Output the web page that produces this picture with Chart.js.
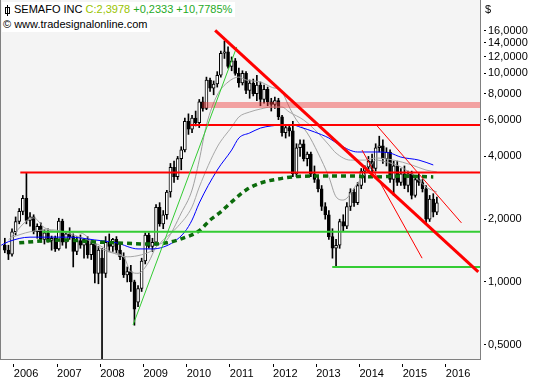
<!DOCTYPE html>
<html lang="en">
<head>
<meta charset="UTF-8">
<title>SEMAFO INC</title>
<script src="https://cdn.jsdelivr.net/npm/chart.js"></script>
<style>
    body { margin: 0; background: #fff; font-family: 'Liberation Sans', Arial, sans-serif; }
    .wrap { position: relative; width: 540px; height: 380px; overflow: hidden; }
    canvas { position: absolute; left: 0; top: 0; }
    .head { position: absolute; left: 2px; background: #fff; font-size: 11px; white-space: nowrap; color: #000; }
    #line1 { top: 2px; height: 15px; line-height: 15px; padding: 0 3px 0 2px; }
    #line2 { top: 17px; height: 15px; line-height: 15px; padding: 0 3px 0 1px; }
    .icon { display: inline-block; position: relative; width: 3px; height: 5px; border: 1px solid #000; margin: 0 4px 0 1px; vertical-align: -1px; }
    .icon:before { content: ''; position: absolute; left: 1px; top: -3px; width: 1px; height: 11px; background: #000; }
    .cl { color: #99c400; }
    .chg { color: #1faa1f; }
    #unit { position: absolute; left: 485px; top: 3px; font-size: 11px; color: #000; }
</style>
</head>
<body>
<div class="wrap">
    <canvas id="chart" width="540" height="380"></canvas>
    <div class="head" id="line1"><span class="icon"></span>SEMAFO INC <span class="cl">C:2,3978</span> <span class="chg">+0,2333 +10,7785%</span></div>
    <div class="head" id="line2">© www.tradesignalonline.com</div>
    <div id="unit">$</div>
</div>
<script>
// monthly candles
const months = [
    '2005-10','2005-11','2005-12',
    '2006-01','2006-02','2006-03','2006-04','2006-05','2006-06','2006-07','2006-08','2006-09','2006-10','2006-11','2006-12',
    '2007-01','2007-02','2007-03','2007-04','2007-05','2007-06','2007-07','2007-08','2007-09','2007-10','2007-11','2007-12',
    '2008-01','2008-02','2008-03','2008-04','2008-05','2008-06','2008-07','2008-08','2008-09','2008-10','2008-11','2008-12',
    '2009-01','2009-02','2009-03','2009-04','2009-05','2009-06','2009-07','2009-08','2009-09','2009-10','2009-11','2009-12',
    '2010-01','2010-02','2010-03','2010-04','2010-05','2010-06','2010-07','2010-08','2010-09','2010-10','2010-11','2010-12',
    '2011-01','2011-02','2011-03','2011-04','2011-05','2011-06','2011-07','2011-08','2011-09','2011-10','2011-11','2011-12',
    '2012-01','2012-02','2012-03','2012-04','2012-05','2012-06','2012-07','2012-08','2012-09','2012-10','2012-11','2012-12',
    '2013-01','2013-02','2013-03','2013-04','2013-05','2013-06','2013-07','2013-08','2013-09','2013-10','2013-11','2013-12',
    '2014-01','2014-02','2014-03','2014-04','2014-05','2014-06','2014-07','2014-08','2014-09','2014-10','2014-11','2014-12',
    '2015-01','2015-02','2015-03','2015-04','2015-05','2015-06','2015-07','2015-08','2015-09','2015-10'
];
const open = [
    1.50,1.42,1.36,
    1.74,1.95,2.18,2.52,1.97,2.05,1.74,1.85,1.60,1.72,1.58,1.62,
    1.44,1.96,1.55,1.70,1.65,1.40,1.58,1.50,1.60,1.35,1.52,1.10,
    1.30,1.10,1.55,1.48,1.60,1.42,1.32,1.08,1.12,1.00,0.80,0.93,
    1.26,1.68,1.48,1.55,2.28,1.90,2.10,2.70,3.55,3.20,3.90,4.30,
    5.90,5.40,6.10,5.80,7.30,6.80,9.30,8.50,8.90,9.80,12.5,12.7,
    10.8,11.5,10.0,9.0,10.0,8.3,9.0,8.0,8.8,7.5,8.4,7.3,
    7.1,7.4,6.2,5.2,5.5,5.3,3.3,4.4,4.6,3.9,4.1,3.3,
    3.1,2.8,2.3,2.1,1.65,1.45,1.50,1.95,1.85,2.30,2.70,2.40,
    2.90,3.40,3.55,3.80,3.50,4.40,4.50,3.90,4.20,3.10,3.60,3.00,
    3.30,2.90,3.30,2.60,3.10,3.00,2.80,2.00,2.50,2.16
];
const high = [
    1.62,1.50,1.80,
    2.05,2.25,2.60,3.35,2.15,2.10,1.90,1.92,1.78,1.80,1.66,1.66,
    2.02,2.00,1.75,1.82,1.70,1.65,1.68,1.62,1.65,1.58,1.55,1.48,
    1.45,1.65,1.70,1.62,1.65,1.55,1.38,1.18,1.20,1.02,0.96,1.30,
    1.72,1.72,1.62,2.35,2.40,2.20,2.75,3.70,3.80,4.00,4.45,6.10,
    6.40,6.30,6.60,7.50,7.70,9.60,9.50,9.20,10.2,12.8,14.3,13.4,
    12.0,11.8,10.6,10.3,10.2,9.3,9.4,9.8,9.1,8.8,8.6,7.6,
    7.7,7.6,6.3,5.6,5.7,5.9,4.6,4.8,4.8,4.2,4.2,3.6,
    3.2,2.9,2.4,2.2,1.80,1.60,2.00,2.10,2.40,2.80,2.80,3.00,
    3.50,3.60,4.00,4.10,4.60,5.00,4.80,4.40,4.30,3.80,3.80,3.50,
    3.60,3.40,3.40,3.20,3.30,3.10,2.90,2.60,2.65,2.55
];
const low = [
    1.38,1.28,1.33,
    1.68,1.90,2.10,1.90,1.85,1.70,1.62,1.55,1.52,1.55,1.42,1.40,
    1.42,1.50,1.45,1.60,1.18,1.35,1.45,1.30,1.30,1.28,0.99,0.98,
    0.40,1.05,1.40,1.40,1.38,1.28,1.05,1.00,0.90,0.62,0.76,0.90,
    1.22,1.45,1.40,1.50,1.85,1.80,2.00,2.55,3.00,3.10,3.45,4.20,
    5.10,5.20,5.60,5.50,6.60,6.70,8.20,7.90,8.60,9.60,11.8,10.6,
    10.3,9.8,8.6,8.8,8.0,7.6,7.8,7.4,7.0,7.2,7.0,6.6,
    6.8,6.0,5.0,4.9,5.0,3.2,3.2,4.0,3.8,3.6,3.2,3.0,
    2.7,2.2,2.0,1.60,1.30,1.18,1.45,1.75,1.80,2.20,2.30,2.35,
    2.80,3.00,3.40,3.30,3.40,4.20,3.70,3.60,3.00,2.60,2.90,2.90,
    2.80,2.70,2.50,2.55,2.90,2.70,1.90,1.95,2.05,2.10
];
const close = [
    1.42,1.36,1.74,
    1.95,2.18,2.52,1.97,2.05,1.74,1.85,1.60,1.72,1.58,1.62,1.44,
    1.96,1.55,1.70,1.65,1.40,1.58,1.50,1.60,1.35,1.52,1.10,1.42,
    1.10,1.55,1.48,1.60,1.42,1.32,1.08,1.12,1.00,0.74,0.93,1.26,
    1.68,1.48,1.55,2.28,1.90,2.10,2.70,3.55,3.20,3.90,4.30,5.90,
    5.40,6.10,5.80,7.30,6.80,9.30,8.50,8.90,9.80,12.5,12.7,10.8,
    11.5,10.0,9.0,10.0,8.3,9.0,8.0,8.8,7.5,8.4,7.3,7.1,
    7.4,6.2,5.2,5.5,5.3,3.3,4.4,4.6,3.9,4.1,3.3,3.1,
    2.8,2.3,2.1,1.65,1.45,1.50,1.95,1.85,2.30,2.70,2.40,2.90,
    3.40,3.55,3.80,3.50,4.40,4.50,3.90,4.20,3.10,3.60,3.00,3.30,
    2.90,3.30,2.60,3.10,3.00,2.80,2.00,2.50,2.16,2.3978
];

// moving averages
const fastDates = ['2005-11','2006-06','2006-09','2007-01','2007-07','2007-12','2008-03','2008-07','2008-09','2008-11',
    '2009-02','2009-04','2009-07','2009-11','2010-02','2010-04','2010-06','2010-09','2010-12','2011-03','2011-05',
    '2011-09','2011-12','2012-03','2012-05','2012-07','2012-10','2013-01','2013-04','2013-06','2013-08','2013-12',
    '2014-03','2014-05','2014-08','2014-12','2015-04','2015-07','2015-10'];
const fastValues = [1.59,2.03,1.82,1.74,1.72,1.47,1.39,1.32,1.12,1.10,
    1.25,1.47,1.59,2.14,2.76,3.84,5.66,7.88,9.09,9.61,9.30,
    9.09,8.60,8.14,6.90,5.98,5.18,4.15,3.19,2.56,2.47,2.98,
    3.44,3.84,3.76,3.56,3.19,2.85,2.70];
const slowDates = ['2005-12','2006-05','2006-11','2007-05','2007-11','2008-04','2008-08','2008-12','2009-03','2009-06',
    '2009-10','2010-02','2010-04','2010-09','2011-01','2011-03','2011-06','2011-09','2011-12','2012-03','2012-05',
    '2012-09','2013-01','2013-04','2013-06','2013-10','2014-02','2014-05','2014-10','2015-03','2015-07','2015-10'];
const slowValues = [1.64,1.74,1.78,1.68,1.54,1.38,1.32,1.35,1.42,1.59,
    1.84,2.29,2.85,4.44,5.53,6.18,6.53,6.75,6.90,6.90,6.53,
    5.98,5.18,4.54,4.15,3.84,3.84,3.93,3.84,3.64,3.44,3.37];
const blueDates = ['2005-09','2005-11','2006-05','2006-11','2007-04','2007-11','2008-05','2008-11','2009-03','2009-06',
    '2009-09','2009-12','2010-02','2010-04','2010-09','2011-01','2011-03','2011-06','2011-09','2011-12','2012-03',
    '2012-06','2012-08','2012-12','2013-04','2013-07','2013-12','2014-05','2014-09','2014-12','2015-05','2015-09'];
const blueValues = [1.50,1.56,1.64,1.64,1.64,1.59,1.54,1.44,1.44,1.47,
    1.56,1.74,1.98,2.39,3.44,4.29,4.90,5.18,5.47,5.60,5.66,
    5.66,5.53,5.24,4.90,4.54,4.20,4.20,4.15,3.97,3.84,3.64];
const longDates = ['2006-02','2006-08','2007-03','2007-10','2008-05','2009-02','2009-07','2009-11','2010-04','2010-07',
    '2010-10','2011-01','2011-05','2011-09','2012-02','2012-06','2012-11','2013-04','2013-10','2014-05','2014-12','2015-09'];
const longValues = [1.54,1.57,1.59,1.56,1.54,1.52,1.54,1.61,1.76,1.98,
    2.17,2.42,2.76,2.98,3.12,3.19,3.22,3.22,3.22,3.19,3.22,3.19];

// horizontal levels (value, start year)
const redLevels = [3.35, 5.66];
const redLevelStart = [2006.15, 2010.08];
const greenLevels = [1.74, 1.18];
const greenLevelStart = [2006.65, 2013.37];
const pinkLevel = 7.05;
const pinkLevelStart = 2010.36;

// trend lines [year, value] pairs
const thickRedTrend = [[2010.66, 16.1], [2016.75, 1.117]];
const thinRedTrends = [
    [[2014.41, 5.60], [2016.36, 1.92]],
    [[2014.06, 4.29], [2015.45, 1.30]]
];
const greenTrend = [[2008.76, 0.622], [2011.16, 13.4]];

// axes
const years = [2006, 2007, 2008, 2009, 2010, 2011, 2012, 2013, 2014, 2015, 2016];
const yTicks = [0.5, 1, 2, 4, 6, 8, 10, 12, 14, 16];
const xMin = 2005.68, xMax = 2016.79;
const yMin = 0.427, yMax = 22.5;

const FONT = "'Liberation Sans', Arial, sans-serif";

function toYear(s) {
    const [y, m] = s.split('-').map(Number);
    return y + (m - 0.5) / 12;
}
function pts(dates, values) {
    return dates.map((d, i) => ({ x: toYear(d), y: values[i] }));
}
function pairPts(pair) {
    return pair.map(p => ({ x: p[0], y: p[1] }));
}
function lineDS(data, color, width, order, extra) {
    return Object.assign({
        type: 'line', data: data, borderColor: color, borderWidth: width,
        pointRadius: 0, fill: false, tension: 0, order: order
    }, extra || {});
}

const wickData = months.map((m, i) => ({ x: toYear(m), y: [low[i], high[i]] }));
const bodyData = months.map((m, i) => ({ x: toYear(m), y: [Math.min(open[i], close[i]), Math.max(open[i], close[i])] }));
const bodyColors = months.map((m, i) => close[i] >= open[i] ? '#ffffff' : '#000000');

const datasets = [];
// trend lines on top
datasets.push(lineDS(pairPts(thickRedTrend), '#ff0000', 3, 0));
thinRedTrends.forEach(t => datasets.push(lineDS(pairPts(t), '#ff0000', 1, 0)));
datasets.push(lineDS(pairPts(greenTrend), '#33cc33', 1, 0));
// levels
redLevels.forEach((v, i) => datasets.push(lineDS([{ x: redLevelStart[i], y: v }, { x: xMax, y: v }], '#ff0000', 2, 1)));
greenLevels.forEach((v, i) => datasets.push(lineDS([{ x: greenLevelStart[i], y: v }, { x: xMax, y: v }], '#33cc33', 2, 1)));
datasets.push(lineDS([{ x: pinkLevelStart, y: pinkLevel }, { x: xMax, y: pinkLevel }], 'rgba(240,60,60,0.45)', 6, 1));
// moving averages
const smooth = { cubicInterpolationMode: 'monotone' };
datasets.push(lineDS(pts(longDates, longValues), '#0b6b0b', 3.5, 2, Object.assign({ borderDash: [5, 4] }, smooth)));
datasets.push(lineDS(pts(blueDates, blueValues), '#0000ff', 1, 2, smooth));
datasets.push(lineDS(pts(slowDates, slowValues), '#a8a8a8', 1, 2, smooth));
datasets.push(lineDS(pts(fastDates, fastValues), '#a0a0a0', 1, 2, smooth));
// candles
datasets.push({
    type: 'bar', data: bodyData, backgroundColor: bodyColors, borderColor: '#000', borderWidth: 1,
    borderSkipped: false, barThickness: 3, grouped: false, order: 5
});
datasets.push({
    type: 'bar', data: wickData, backgroundColor: '#000', borderWidth: 0,
    barThickness: 1, grouped: false, order: 6
});

const plotBackground = {
    id: 'plotBackground',
    beforeDraw(chart) {
        const { ctx, chartArea } = chart;
        ctx.save();
        ctx.fillStyle = '#f4f4f4';
        ctx.fillRect(chartArea.left, chartArea.top, chartArea.right - chartArea.left, chartArea.bottom - chartArea.top);
        ctx.strokeStyle = '#808080';
        ctx.lineWidth = 1;
        ctx.beginPath();
        ctx.moveTo(chartArea.left + 0.5, chartArea.top);
        ctx.lineTo(chartArea.left + 0.5, chartArea.bottom);
        ctx.stroke();
        ctx.restore();
    }
};

new Chart(document.getElementById('chart').getContext('2d'), {
    type: 'bar',
    data: { datasets: datasets },
    plugins: [plotBackground],
    options: {
        responsive: false,
        animation: false,
        devicePixelRatio: 1,
        events: [],
        layout: { padding: 0 },
        plugins: { legend: { display: false }, tooltip: { enabled: false } },
        scales: {
            x: {
                type: 'linear', min: xMin, max: xMax, offset: false,
                border: { color: '#808080', width: 1 },
                grid: { offset: false, drawOnChartArea: false, tickLength: 8, tickBorderDash: [0, 4, 4, 0], tickColor: '#000' },
                ticks: {
                    align: 'start', padding: 0, autoSkip: false, maxRotation: 0, color: '#000',
                    font: { family: FONT, size: 11 },
                    callback: v => String(v)
                },
                afterBuildTicks: s => { s.ticks = years.map(v => ({ value: v })); },
                afterFit: s => { s.height = 21; s.paddingLeft = 0; s.paddingRight = 0; }
            },
            y: {
                type: 'logarithmic', position: 'right', min: yMin, max: yMax,
                border: { color: '#808080', width: 1 },
                grid: { drawOnChartArea: false, tickLength: 6, tickBorderDash: [0, 3, 3, 0], tickColor: '#000' },
                ticks: {
                    autoSkip: false, padding: 2, color: '#000',
                    font: { family: FONT, size: 11 },
                    callback: v => v.toFixed(4).replace('.', ',')
                },
                afterBuildTicks: s => { s.ticks = yTicks.map(v => ({ value: v })); },
                afterFit: s => { s.width = 60; s.paddingTop = 0; s.paddingBottom = 0; }
            }
        }
    }
});
</script>
</body>
</html>
